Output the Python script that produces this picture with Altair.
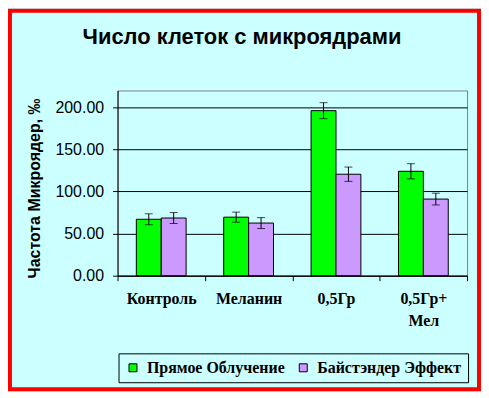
import altair as alt
import pandas as pd

title_text = "Число клеток с микроядрами"
categories = ["Контроль", "Меланин", "0,5Гр", "0,5Гр+ Мел"]
series = ["Прямое Облучение", "Байстэндер Эффект"]
direct = [67.0, 69.5, 196.0, 124.0]
direct_err = [6.5, 6.0, 9.5, 9.0]
bystander = [68.5, 62.5, 120.5, 91.0]
bystander_err = [6.5, 6.5, 8.5, 7.0]
colors = ["#00FF00", "#CC99FF"]

rows = []
for i, c in enumerate(categories):
    for s, vals, errs in ((series[0], direct, direct_err), (series[1], bystander, bystander_err)):
        rows.append({"cat": c, "series": s, "value": vals[i],
                     "lo": vals[i] - errs[i], "hi": vals[i] + errs[i]})
df = pd.DataFrame(rows)

W, H = 351, 186
PL, PT, PR, PB = 110, 82, 14, 116

xenc = alt.X("cat:N", sort=categories,
             scale=alt.Scale(paddingInner=0, paddingOuter=0),
             axis=alt.Axis(title=None, labelAngle=0, tickBand="extent",
                           labelFont="Liberation Serif", labelFontWeight="bold",
                           labelFontSize=16, labelColor="black",
                           labelExpr="split(datum.label, ' ')", labelLineHeight=22,
                           labelPadding=10, tickSize=5, tickColor="black",
                           domainColor="black", grid=False))
xoff = alt.XOffset("series:N", sort=series,
                   scale=alt.Scale(paddingInner=0, paddingOuter=0.755))
yscale = alt.Scale(domain=[0, 220], nice=False)

base = alt.Chart(df)

bars = base.mark_bar(stroke="black", strokeWidth=1).encode(
    x=xenc, xOffset=xoff,
    y=alt.Y("value:Q", scale=yscale,
            axis=alt.Axis(title="Частота Микроядер, ‰", values=[0, 50, 100, 150, 200],
                          format=".2f", labelFont="Liberation Sans", labelFontSize=16,
                          labelColor="black", labelPadding=9, tickSize=5,
                          tickColor="black", domainColor="black", grid=True,
                          gridColor="black", gridWidth=1,
                          titleFont="Liberation Sans", titleFontSize=16,
                          titleFontWeight="bold", titleColor="black",
                          titleAngle=270, titleAlign="center", titleBaseline="middle",
                          titleX=-83, titleY=98)),
    color=alt.Color("series:N", sort=series,
                    scale=alt.Scale(domain=series, range=colors),
                    legend=alt.Legend(title=None, orient="none", legendX=1, legendY=264,
                                      direction="horizontal", symbolType="square",
                                      symbolSize=64, symbolStrokeColor="black",
                                      symbolStrokeWidth=1, labelFont="Liberation Serif",
                                      labelFontWeight="bold", labelFontSize=16,
                                      labelColor="black", labelOffset=6,
                                      columnPadding=10, padding=6.5,
                                      strokeColor="black", fillColor="#CCFFFF")),
)

err = base.mark_rule(color="black", strokeWidth=1).encode(
    x=xenc, xOffset=xoff,
    y=alt.Y("lo:Q", scale=yscale), y2="hi:Q")

caps_lo = base.mark_tick(color="black", thickness=1, size=8, orient="horizontal").encode(
    x=xenc, xOffset=xoff, y=alt.Y("lo:Q", scale=yscale))
caps_hi = base.mark_tick(color="black", thickness=1, size=8, orient="horizontal").encode(
    x=xenc, xOffset=xoff, y=alt.Y("hi:Q", scale=yscale))

one = alt.Chart(pd.DataFrame({"t": [title_text]}))

frame = one.mark_rect(fill=None, stroke="#FF0000", strokeWidth=4).encode(
    x=alt.value(-PL + 2), x2=alt.value(W + PR - 2),
    y=alt.value(-PT + 2), y2=alt.value(H + PB - 2))

title = one.mark_text(font="Liberation Sans", fontSize=22, fontWeight="bold",
                      color="black", align="center", baseline="alphabetic").encode(
    text="t:N", x=alt.value(125), y=alt.value(-47))

chart = alt.layer(bars, err, caps_lo, caps_hi, frame, title).properties(
    width=W, height=H,
    autosize=alt.AutoSizeParams(type="none"),
    padding={"left": PL, "top": PT, "right": PR, "bottom": PB},
    background="#CCFFFF",
).configure_view(stroke="#808080", strokeWidth=1)

chart.save("out.html", embed_options={"renderer": "svg", "actions": False})
